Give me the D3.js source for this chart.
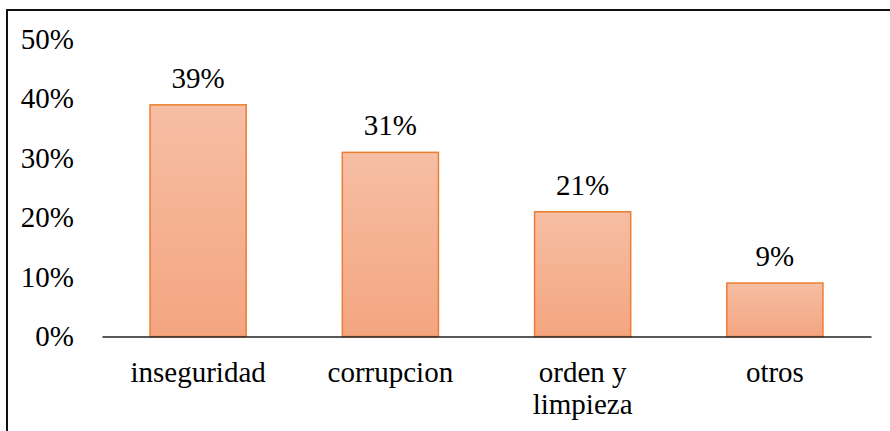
<!DOCTYPE html>
<html>
<head>
<meta charset="utf-8">
<script src="https://cdn.jsdelivr.net/npm/d3@7"></script>
<style>
  html, body { margin: 0; padding: 0; background: #fff; }
  svg { display: block; }
</style>
</head>
<body>
<div id="chart"></div>
<script>
// chart data
var categories = ['inseguridad', 'corrupcion', 'orden y\nlimpieza', 'otros'];
var values = [0.39, 0.31, 0.21, 0.09];
var yTicks = [0, 0.1, 0.2, 0.3, 0.4, 0.5];

var W = 890, H = 431;
var FONT = "'Liberation Serif', 'Times New Roman', serif";

var svg = d3.select('#chart').append('svg')
    .attr('width', W)
    .attr('height', H);

// frame that runs off the right and bottom edges
svg.append('path')
    .attr('d', 'M7,' + (H + 5) + 'V10H' + (W + 5))
    .attr('fill', 'none')
    .attr('stroke', '#111')
    .attr('stroke-width', 2);

var defs = svg.append('defs');
var grad = defs.append('linearGradient')
    .attr('id', 'barFill')
    .attr('x1', 0).attr('y1', 0).attr('x2', 0).attr('y2', 1);
grad.append('stop').attr('offset', '0%').attr('stop-color', '#F6BEA4');
grad.append('stop').attr('offset', '100%').attr('stop-color', '#F4A580');

var x = d3.scaleBand()
    .domain(categories)
    .range([102, 871])
    .paddingInner(0.5)
    .paddingOuter(0.25);

var y = d3.scaleLinear()
    .domain([0, 0.5])
    .range([336.5, 39.5]);

function serif(sel) {
    sel.style('font-family', FONT)
        .style('font-size', '29px')
        .style('fill', '#000');
}

// y tick labels, no axis line
svg.append('g')
    .selectAll('text')
    .data(yTicks)
    .enter().append('text')
    .attr('x', 74)
    .attr('y', d => y(d) + 9.5)
    .attr('text-anchor', 'end')
    .call(serif)
    .text(d => d3.format('.0%')(d));

// bars
svg.append('g')
    .selectAll('rect')
    .data(values)
    .enter().append('rect')
    .attr('x', (d, i) => x(categories[i]))
    .attr('y', d => y(d))
    .attr('width', x.bandwidth())
    .attr('height', d => y(0) - y(d))
    .attr('fill', 'url(#barFill)')
    .attr('stroke', '#ED7D31')
    .attr('stroke-width', 1.5);

// value labels
svg.append('g')
    .selectAll('text')
    .data(values)
    .enter().append('text')
    .attr('x', (d, i) => x(categories[i]) + x.bandwidth() / 2)
    .attr('y', d => y(d) - 17)
    .attr('text-anchor', 'middle')
    .call(serif)
    .text(d => d3.format('.0%')(d));

// x axis
var xAxis = svg.append('g')
    .attr('transform', 'translate(0,' + y(0) + ')')
    .call(d3.axisBottom(x).tickSize(0).tickSizeOuter(0).tickFormat(''));
xAxis.select('.domain').attr('stroke', '#222').attr('stroke-width', 1.3);

// category labels, split on newline
var cat = svg.append('g')
    .selectAll('text')
    .data(categories)
    .enter().append('text')
    .attr('text-anchor', 'middle')
    .attr('transform', d => 'translate(' + (x(d) + x.bandwidth() / 2) + ',382)')
    .call(serif);

cat.selectAll('tspan')
    .data(d => d.split('\n'))
    .enter().append('tspan')
    .attr('x', 0)
    .attr('dy', (d, i) => i === 0 ? 0 : 31.5)
    .text(d => d);
</script>
</body>
</html>
